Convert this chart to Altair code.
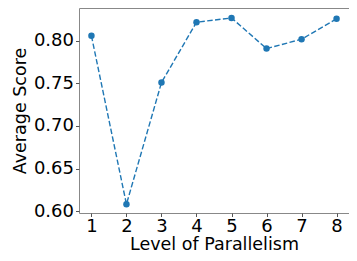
import altair as alt
import pandas as pd

levels = [1, 2, 3, 4, 5, 6, 7, 8]
scores = [0.806, 0.608, 0.751, 0.822, 0.827, 0.791, 0.802, 0.826]
y_ticks = [0.60, 0.65, 0.70, 0.75, 0.80]

df = pd.DataFrame({"level": levels, "score": scores})

x = alt.X("level:Q", title="Level of Parallelism",
          scale=alt.Scale(domain=[0.645, 8.355], nice=False, zero=False),
          axis=alt.Axis(values=levels, format="d", grid=False))
y = alt.Y("score:Q", title="Average Score",
          scale=alt.Scale(domain=[0.5977, 0.8387], nice=False, zero=False),
          axis=alt.Axis(values=y_ticks, format=".2f", grid=False))

base = alt.Chart(df).encode(x=x, y=y)
line = base.mark_line(color="#1f77b4", strokeDash=[5.5, 2.4], strokeWidth=1.4)
pts = base.mark_circle(color="#1f77b4", size=42, opacity=1)

chart = (line + pts).properties(
    width=270, height=205,
    autosize=alt.AutoSizeParams(type="none"),
    padding={"left": 71, "top": 0, "right": 0, "bottom": 40},
).configure_view(
    stroke="#888888", strokeWidth=1
).configure_axis(
    domain=False,
    tickColor="#555555", tickSize=3.5, tickWidth=1,
    labelFont="DejaVu Sans", labelFontSize=18, labelColor="#000000",
    titleFont="DejaVu Sans", titleFontSize=17.5, titleColor="#000000",
    titleFontWeight="normal", labelPadding=2,
).configure_axisY(titlePadding=4).configure_axisX(titlePadding=0, labelPadding=1)

chart.save("out.html", embed_options={"renderer": "svg", "actions": False})
